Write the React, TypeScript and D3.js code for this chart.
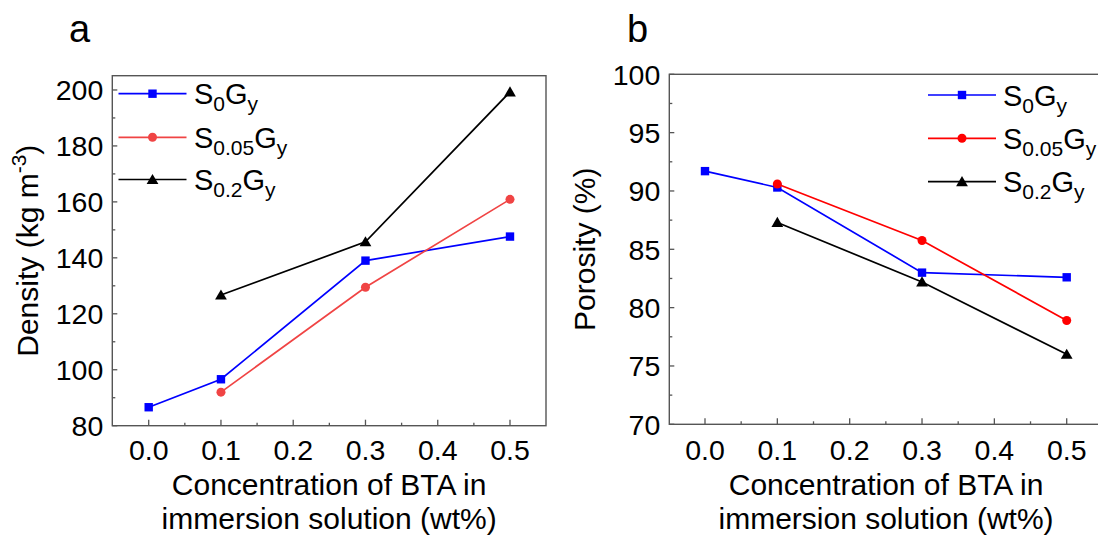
import React from "react";
import * as d3 from "d3";

// ---------- data ----------
const xValues: number[] = [0.0, 0.1, 0.3, 0.5];
const xTickValues: number[] = [0, 0.1, 0.2, 0.3, 0.4, 0.5];
const xMinorTicks: number[] = [0.05, 0.15, 0.25, 0.35, 0.45];

const seriesNames: string[] = ["S0Gy", "S0.05Gy", "S0.2Gy"];
const seriesSub: string[] = ["0", "0.05", "0.2"];

const densityS0: (number | null)[] = [86.6, 96.6, 139.0, 147.6];
const densityS005: (number | null)[] = [null, 92.0, 129.5, 160.9];
const densityS02: (number | null)[] = [null, 126.7, 145.7, 199.3];

const porosityS0: (number | null)[] = [91.7, 90.3, 83.0, 82.6];
const porosityS005: (number | null)[] = [null, 90.6, 85.75, 78.9];
const porosityS02: (number | null)[] = [null, 87.3, 82.2, 76.0];

const densityTicks: number[] = [80, 100, 120, 140, 160, 180, 200];
const densityMinor: number[] = [90, 110, 130, 150, 170, 190];
const porosityTicks: number[] = [70, 75, 80, 85, 90, 95, 100];
const porosityMinor: number[] = [72.5, 77.5, 82.5, 87.5, 92.5, 97.5];

const FONT = "'Liberation Sans', Arial, Helvetica, sans-serif";
const TICK_FS = 28.5;
const TITLE_FS = 30;

type Series = { values: (number | null)[]; color: string; marker: "square" | "circle" | "triangle" };

function Marker({ type, x, y, color }: { type: string; x: number; y: number; color: string }) {
  if (type === "square") return <rect x={x - 4.2} y={y - 4.2} width={8.4} height={8.4} fill={color} />;
  if (type === "circle") return <circle cx={x} cy={y} r={4.5} fill={color} />;
  const s = 5.6;
  const p = `M${x},${y - s}L${x + s * 1.05},${y + s * 0.8}L${x - s * 1.05},${y + s * 0.8}Z`;
  return <path d={p} fill={color} />;
}

function LegendLabel({ x, y, sub }: { x: number; y: number; sub: string }) {
  return (
    <text x={x} y={y + 10.5} fontFamily={FONT} fontSize={29} fill="#000">
      S
      <tspan fontSize={21} dy={7}>{sub}</tspan>
      <tspan fontSize={29} dy={-7}>G</tspan>
      <tspan fontSize={21} dy={7}>y</tspan>
    </text>
  );
}

function Panel(props: {
  left: number; right: number; top: number; bottom: number;
  x0px: number; x5px: number;
  yDomain: [number, number];
  yTicks: number[]; yMinor: number[];
  series: Series[];
  legendX: number; legendY: number[]; legendTextX: number;
  label: string; labelX: number;
  yTitle: React.ReactNode; yTitleX: number;
}) {
  const { left, right, top, bottom } = props;
  const x = d3.scaleLinear().domain([0, 0.5]).range([props.x0px, props.x5px]);
  const y = d3.scaleLinear().domain(props.yDomain).range([bottom, top]);
  const line = d3
    .line<[number, number | null]>()
    .defined((d) => d[1] !== null)
    .x((d) => x(d[0]))
    .y((d) => y(d[1] as number));
  const cx = (left + right) / 2;
  const cy = (top + bottom) / 2;
  const axisColor = "#555";
  return (
    <g>
      <text x={props.labelX} y={41.5} fontFamily={FONT} fontSize={38} fill="#000">{props.label}</text>
      <rect x={left} y={top} width={right - left} height={bottom - top} fill="none" stroke={axisColor} strokeWidth={1.4} />
      {xTickValues.map((t) => (
        <g key={"xt" + t}>
          <line x1={x(t)} x2={x(t)} y1={bottom} y2={bottom - 6} stroke={axisColor} strokeWidth={1.3} />
          <text x={x(t)} y={460} textAnchor="middle" fontFamily={FONT} fontSize={TICK_FS} fill="#000">{d3.format(".1f")(t)}</text>
        </g>
      ))}
      {xMinorTicks.map((t) => (
        <line key={"xm" + t} x1={x(t)} x2={x(t)} y1={bottom} y2={bottom - 3} stroke={axisColor} strokeWidth={1.3} />
      ))}
      {props.yTicks.map((t) => (
        <g key={"yt" + t}>
          <line x1={left} x2={left + 5} y1={y(t)} y2={y(t)} stroke={axisColor} strokeWidth={1.3} />
          <text x={left - 9} y={y(t)} dy="0.36em" textAnchor="end" fontFamily={FONT} fontSize={TICK_FS} fill="#000">{t}</text>
        </g>
      ))}
      {props.yMinor.map((t) => (
        <line key={"ym" + t} x1={left} x2={left + 3} y1={y(t)} y2={y(t)} stroke={axisColor} strokeWidth={1.3} />
      ))}
      <text x={cx} y={495} textAnchor="middle" fontFamily={FONT} fontSize={TITLE_FS} fill="#000">Concentration of BTA in</text>
      <text x={cx} y={529} textAnchor="middle" fontFamily={FONT} fontSize={TITLE_FS} fill="#000">immersion solution (wt%)</text>
      <text transform={`translate(${props.yTitleX},${cy}) rotate(-90)`} textAnchor="middle" fontFamily={FONT} fontSize={TITLE_FS} fill="#000">
        {props.yTitle}
      </text>
      {props.series.map((s, i) => {
        const pts: [number, number | null][] = xValues.map((xv, j) => [xv, s.values[j]]);
        return (
          <g key={"s" + i}>
            <path d={line(pts) || ""} fill="none" stroke={s.color} strokeWidth={1.7} />
            {pts.filter((p) => p[1] !== null).map((p, j) => (
              <Marker key={j} type={s.marker} x={x(p[0])} y={y(p[1] as number)} color={s.color} />
            ))}
          </g>
        );
      })}
      {props.series.map((s, i) => (
        <g key={"lg" + i}>
          <line x1={props.legendX} x2={props.legendX + 68} y1={props.legendY[i]} y2={props.legendY[i]} stroke={s.color} strokeWidth={1.7} />
          <Marker type={s.marker} x={props.legendX + 34} y={props.legendY[i]} color={s.color} />
          <LegendLabel x={props.legendTextX} y={props.legendY[i]} sub={seriesSub[i]} />
        </g>
      ))}
    </g>
  );
}

export default function App() {
  const leftSeries: Series[] = [
    { values: densityS0, color: "#0000ff", marker: "square" },
    { values: densityS005, color: "#f04444", marker: "circle" },
    { values: densityS02, color: "#000000", marker: "triangle" },
  ];
  const rightSeries: Series[] = [
    { values: porosityS0, color: "#0000ff", marker: "square" },
    { values: porosityS005, color: "#ff0000", marker: "circle" },
    { values: porosityS02, color: "#000000", marker: "triangle" },
  ];
  return (
    <svg width={1098} height={536} style={{ position: "absolute", left: 0, top: 0, background: "#fff" }} data-series={seriesNames.join(",")}>
      <rect x={0} y={0} width={1098} height={536} fill="#fff" />
      <Panel
        left={112.3} right={546} top={75.7} bottom={425.7}
        x0px={148.7} x5px={510}
        yDomain={[80, 205.1]}
        yTicks={densityTicks} yMinor={densityMinor}
        series={leftSeries}
        legendX={118.5} legendY={[93.7, 137.3, 179.5]} legendTextX={194}
        label="a" labelX={69}
        yTitleX={37.5}
        yTitle={<>Density (kg m<tspan fontSize={21} dy={-12}>-3</tspan><tspan fontSize={TITLE_FS} dy={12}>)</tspan></>}
      />
      <Panel
        left={669.3} right={1102.8} top={74.3} bottom={424.3}
        x0px={705} x5px={1066.7}
        yDomain={[70, 100]}
        yTicks={porosityTicks} yMinor={porosityMinor}
        series={rightSeries}
        legendX={928} legendY={[95, 138.3, 181.7]} legendTextX={1003}
        label="b" labelX={627}
        yTitleX={594.5}
        yTitle={<>Porosity (%)</>}
      />
    </svg>
  );
}
